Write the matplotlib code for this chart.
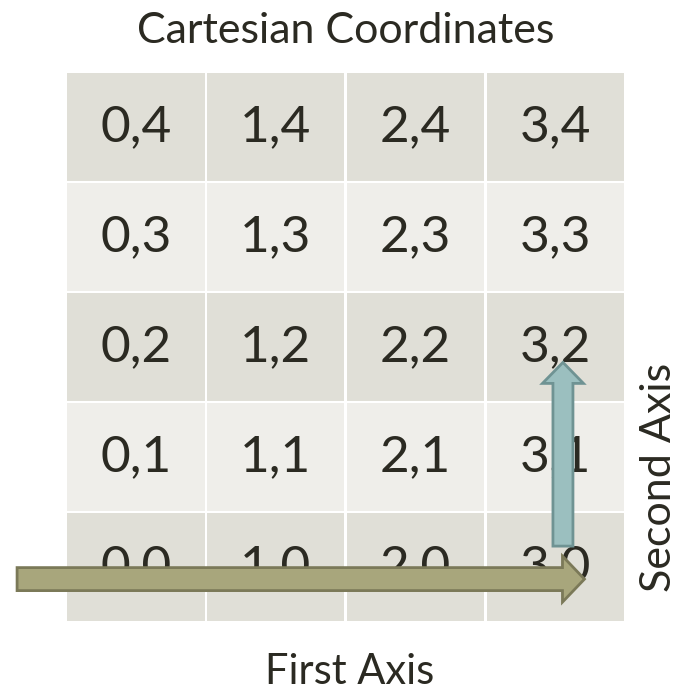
import matplotlib
matplotlib.use("Agg")
import matplotlib.pyplot as plt
from matplotlib.patches import Rectangle, FancyArrow

plt.rcParams['font.family'] = ['Lato', 'DejaVu Sans']

# Data
n_cols = 4
n_rows = 5
x_values = [0, 1, 2, 3]
y_values = [0, 1, 2, 3, 4]
title = "Cartesian Coordinates"
x_label = "First Axis"
y_label = "Second Axis"
# arrows (data units): first axis runs along row 0, second axis up column 3
first_axis_start = (-0.35, 0.39)
first_axis_end = (3.71, 0.39)
second_axis_start = (3.556, 0.69)
second_axis_end = (3.556, 2.36)

W, H = 681, 693
fig = plt.figure(figsize=(W / 100, H / 100), dpi=100)
fig.patch.set_facecolor('white')

left, right, top, bottom = 66, 625, 72, 622
ax = fig.add_axes([left / W, 1 - bottom / H, (right - left) / W, (bottom - top) / H])
ax.set_xlim(0, n_cols)
ax.set_ylim(0, n_rows)
ax.axis('off')

dark = '#E0DFD7'
light = '#EFEEEA'
text_c = '#2B2A22'
gx = 2.5 / 139.75
gy = 2.5 / 110

for j in y_values:
    col = dark if j % 2 == 0 else light
    for i in x_values:
        ax.add_patch(Rectangle((i + gx / 2, j + gy / 2), 1 - gx, 1 - gy,
                               facecolor=col, edgecolor='none', zorder=1))
        ax.text(i + 0.5, j + 0.5, f"{i},{j}", ha='center', va='center',
                fontsize=37, color=text_c, zorder=2)

# horizontal arrow
dx = first_axis_end[0] - first_axis_start[0]
ax.add_patch(FancyArrow(first_axis_start[0], first_axis_start[1], dx, 0,
                        width=23 / 110, head_width=46 / 110, head_length=22 / 139.75,
                        length_includes_head=True, facecolor='#A8A67C',
                        edgecolor='#7B7958', linewidth=2, zorder=3, clip_on=False))
# vertical arrow
dy = second_axis_end[1] - second_axis_start[1]
ax.add_patch(FancyArrow(second_axis_start[0], second_axis_start[1], 0, dy,
                        width=20 / 139.75, head_width=41 / 139.75, head_length=21 / 110,
                        length_includes_head=True, facecolor='#9BBFBF',
                        edgecolor='#6F9393', linewidth=2, zorder=3, clip_on=False))

fig.text(346 / W, 1 - 43 / H, title, ha='center', va='baseline', fontsize=31, color=text_c)
fig.text(349.5 / W, 1 - 691 / H, x_label, ha='center', va='bottom', fontsize=30, color=text_c)
fig.text(659 / W, 1 - 477 / H, y_label, ha='center', va='center', fontsize=31,
         color=text_c, rotation=90)

fig.savefig('out.png', dpi=100)
